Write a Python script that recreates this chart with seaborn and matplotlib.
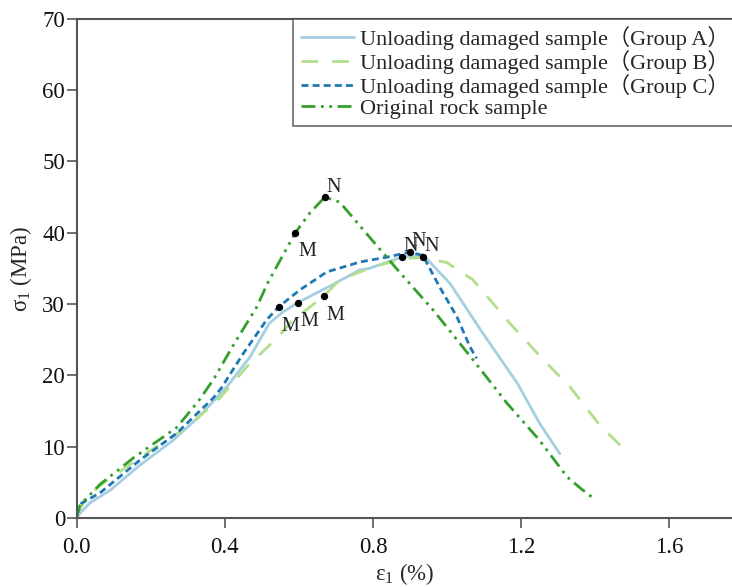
import matplotlib
matplotlib.use("Agg")
import matplotlib.pyplot as plt
import seaborn as sns
import pandas as pd

# Stress-strain curves (strain in %, stress in MPa)
a_strain = [0, 0.004, 0.035, 0.09, 0.17, 0.26, 0.33, 0.405, 0.468, 0.52, 0.557, 0.597,
            0.69, 0.765, 0.79, 0.878, 0.935, 1.008, 1.097, 1.19, 1.25, 1.305]
a_stress = [0, 0.4, 2.1, 3.9, 7.4, 10.9, 14.2, 18.4, 22.6, 27.3, 28.9, 30.2,
            32.7, 34.8, 35.0, 36.6, 36.9, 32.9, 25.9, 18.9, 13.3, 9.0]

b_strain = [0, 0.03, 0.09, 0.2, 0.3, 0.386, 0.459, 0.54, 0.584, 0.63, 0.667, 0.71,
            0.8, 0.878, 0.935, 1.0, 1.07, 1.116, 1.17, 1.26, 1.332, 1.413, 1.476]
b_stress = [0.5, 3.2, 5.6, 9.5, 12.8, 16.8, 21.2, 25.2, 27.8, 29.6, 31.1, 33.4,
            35.2, 36.3, 36.6, 35.8, 33.4, 30.6, 27.3, 22.2, 18.4, 13.0, 9.8]

c_strain = [0, 0.013, 0.062, 0.17, 0.27, 0.368, 0.39, 0.45, 0.513, 0.545, 0.603, 0.675,
            0.765, 0.84, 0.9, 0.935, 0.98, 1.027, 1.062, 1.08]
c_stress = [0.5, 2.1, 3.5, 8.1, 11.9, 16.8, 18.2, 23.1, 27.8, 29.6, 32.0, 34.5,
            35.9, 36.6, 37.3, 36.8, 32.4, 28.2, 24.0, 22.4]

o_strain = [0, 0.005, 0.016, 0.062, 0.152, 0.27, 0.33, 0.37, 0.42, 0.486, 0.516, 0.59,
            0.63, 0.67, 0.71, 0.82, 0.873, 0.962, 1.07, 1.162, 1.25, 1.324, 1.36, 1.395]
o_stress = [0, 1.5, 2.2, 4.7, 8.4, 12.7, 16.5, 19.5, 24.0, 29.6, 33.0, 40.0,
            42.8, 45.0, 44.3, 37.6, 34.4, 29.2, 22.2, 16.1, 10.9, 5.8, 4.2, 2.8]

series_names = ["Unloading damaged sample（Group A）",
                "Unloading damaged sample（Group B）",
                "Unloading damaged sample（Group C）",
                "Original rock sample"]

# Characteristic points M and N on each curve
pt_strain = [0.597, 0.878, 0.667, 0.935, 0.545, 0.9, 0.59, 0.67]
pt_stress = [30.2, 36.6, 31.1, 36.6, 29.6, 37.3, 40.0, 45.0]
pt_labels = ["M", "N", "M", "N", "M", "N", "M", "N"]

x_ticks = [0.0, 0.4, 0.8, 1.2, 1.6]
y_ticks = [0, 10, 20, 30, 40, 50, 60, 70]

sns.set_style("ticks")
plt.rcParams["font.family"] = ["Liberation Serif", "Noto Sans CJK SC"]
plt.rcParams["mathtext.fontset"] = "stix"

frames = []
for name, xs, ys in zip(series_names,
                        [a_strain, b_strain, c_strain, o_strain],
                        [a_stress, b_stress, c_stress, o_stress]):
    frames.append(pd.DataFrame({"strain": xs, "stress": ys, "series": name}))
df = pd.concat(frames, ignore_index=True)

palette = dict(zip(series_names, ["#a6cee3", "#b2df8a", "#1f78b4", "#33a02c"]))
dashes = dict(zip(series_names, ["", (6, 5), (2.5, 1.5), (5, 2, 1, 2, 1, 2)]))

fig = plt.figure(figsize=(7.32, 5.87), dpi=100)
ax = fig.add_axes([0.105, 0.1175, 0.895, 0.8505])

sns.lineplot(data=df, x="strain", y="stress", hue="series", style="series",
             palette=palette, dashes=dashes, sort=False, estimator=None,
             linewidth=2.0, ax=ax)

pts = pd.DataFrame({"strain": pt_strain, "stress": pt_stress})
sns.scatterplot(data=pts, x="strain", y="stress", color="black", s=28,
                edgecolor="black", linewidth=0, zorder=5, ax=ax, legend=False)

label_offsets = {"M": (2, -17), "N": (1, 4)}
for xv, yv, lab in zip(pt_strain, pt_stress, pt_labels):
    dx, dy = label_offsets[lab]
    ax.annotate(lab, (xv, yv), xytext=(dx, dy), textcoords="offset points",
                fontsize=14.5, color="#222222")

ax.set_xlim(0, 1.77)
ax.set_ylim(0, 70)
ax.set_xticks(x_ticks)
ax.set_xticklabels([f"{t:.1f}" for t in x_ticks])
ax.set_yticks(y_ticks)
ax.tick_params(axis="both", direction="out", length=7, width=1.2,
               color="#555555", labelsize=16.5, labelcolor="#111111")
ax.tick_params(axis="x", pad=7)
ax.tick_params(axis="y", pad=1.5)
ax.set_xlabel(r"$\mathregular{\varepsilon_1}$ (%)", fontsize=16.5, labelpad=2)
ax.set_ylabel(r"$\mathregular{\sigma_1}$ (MPa)", fontsize=16.5, labelpad=6)

for side in ["left", "bottom", "top"]:
    ax.spines[side].set_color("#555555")
    ax.spines[side].set_linewidth(1.5)
ax.spines["right"].set_visible(False)

handles, labels = ax.get_legend_handles_labels()
leg = ax.legend(handles, labels, loc="upper right", bbox_to_anchor=(1.007, 1.0),
                borderaxespad=0, frameon=True, fancybox=False, fontsize=16,
                handlelength=2.4, handletextpad=0.25, labelspacing=0.0,
                borderpad=0.33)
leg.get_frame().set_edgecolor("#444444")
leg.get_frame().set_linewidth(1.2)

fig.savefig("out.png", dpi=100)
